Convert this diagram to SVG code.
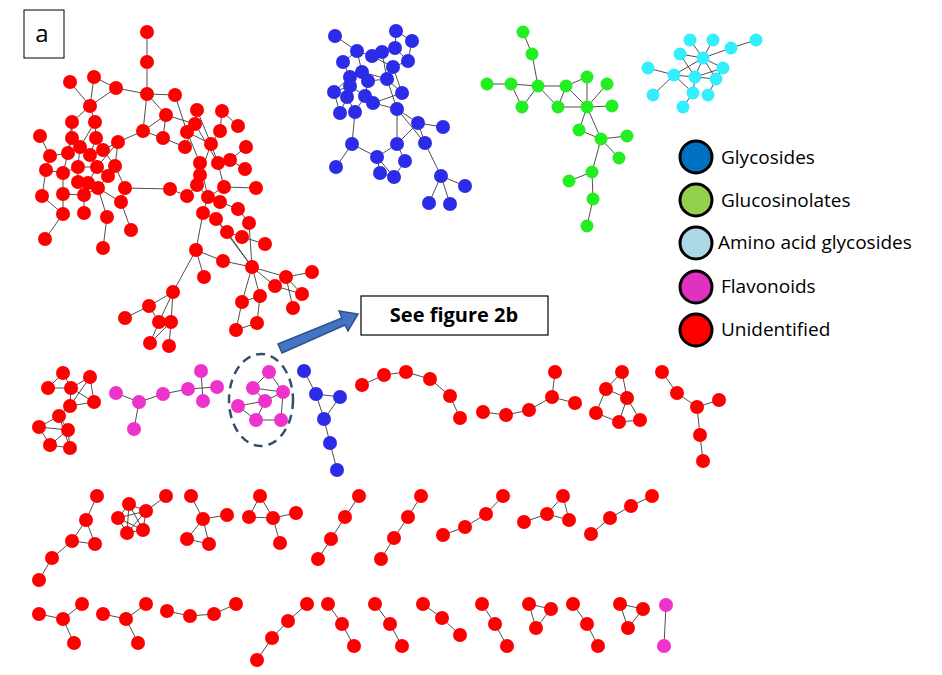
<svg xmlns="http://www.w3.org/2000/svg" width="942" height="675" viewBox="0 0 942 675">
<style>
.e{stroke:#3a3a3a;stroke-width:0.9;fill:none}
.r{fill:#ff0000}.b{fill:#2b2be8}.g{fill:#22ee22}.c{fill:#33eeff}.m{fill:#ee33cc}
.lg{stroke:#000;stroke-width:3}
.t{font-family:"Open Sans","Liberation Sans",sans-serif;font-size:19px;fill:#000}
</style>
<rect width="942" height="675" fill="#fff"/>
<g id="connectors" class="e">
<path d="M147,32L147,62M147,62L147,94M147,94L116,88M147,94L175,95M147,94L166,115M147,94L143,131M116,88L94,77M116,88L90,106M94,77L90,106M70,82L90,106M90,106L95,122M90,106L72,122M175,95L187,132M166,115L163,138M166,115L143,131M166,115L195,124M143,131L118,142M143,131L163,138M163,138L185,147M185,147L195,124M197,110L195,124M195,124L187,132M187,132L211,144M222,111L238,126M222,111L220,131M220,131L211,144M197,110L211,144M187,132L200,163M195,124L218,163M211,144L218,163M211,144L200,175M218,163L230,160M218,163L224,187M230,160L245,169M246,147L230,160M200,163L200,175M200,175L197,185M197,185L187,196M197,185L208,197M200,163L208,197M224,187L256,188M224,187L208,197M208,197L220,202M220,202L238,209M203,213L208,197M203,213L216,219M216,219L227,232M238,209L249,223M227,232L242,237M242,237L265,244M249,223L252,267M227,232L252,267M216,219L252,267M203,213L196,250M196,250L204,277M196,250L223,261M223,261L252,267M252,267L286,277M286,277L312,272M252,267L275,286M275,286L302,294M286,277L302,294M286,277L293,308M252,267L260,296M252,267L242,302M242,302L236,330M260,296L257,323M236,330L257,323M242,302L260,296M196,250L173,292M173,292L149,306M149,306L125,318M173,292L159,322M173,292L171,322M159,322L171,322M159,322L150,343M171,322L169,346M149,306L159,322M171,322L150,343M125,188L170,189M170,189L187,196M72,122L72,138M95,122L96,138M40,136L50,156M72,138L68,153M72,138L80,147M96,138L90,155M96,138L103,150M118,142L103,150M118,142L115,166M50,156L46,170M50,156L68,153M68,153L80,147M80,147L90,155M90,155L103,150M68,153L63,173M80,147L78,167M90,155L97,167M103,150L115,166M115,166L108,176M46,170L63,173M63,173L78,167M78,167L97,167M97,167L108,176M78,167L78,182M97,167L88,183M108,176L98,188M115,166L125,188M78,182L88,183M88,183L98,188M46,170L42,196M63,173L63,194M78,182L84,195M98,188L84,195M63,194L63,214M42,196L63,214M84,195L84,213M98,188L107,217M107,217L103,248M125,188L121,202M121,202L131,230M63,214L45,239M63,194L84,195M98,188L121,202M72,122L68,153M95,122L80,147M118,142L97,167"/>
<path d="M335,36L357,51M357,51L372,56M372,56L382,52M382,52L395,48M396,31L412,41M396,31L395,48M412,41L408,61M395,48L408,61M343,62L357,51M343,62L350,77M357,51L362,72M362,72L350,77M362,72L368,81M372,56L393,67M382,52L387,79M393,67L408,61M393,67L387,79M350,77L350,86M350,86L334,92M350,86L347,97M350,86L365,96M368,81L365,96M368,81L387,79M387,79L402,93M365,96L373,103M373,103L397,109M334,92L340,113M347,97L340,113M347,97L355,112M355,112L365,96M362,72L387,79M387,79L397,109M397,109L418,123M418,123L443,127M418,123L425,143M397,109L425,143M355,112L352,144M352,144L336,167M352,144L377,157M397,109L397,144M397,144L418,123M397,144L377,157M397,144L405,161M377,157L380,173M380,173L394,177M394,177L405,161M377,157L394,177M425,143L441,176M441,176L465,186M441,176L429,203M441,176L450,204M334,92L350,77M373,103L402,93M402,93L393,67"/>
<path d="M523,32L532,54M532,54L538,86M487,84L511,84M511,84L538,86M511,84L522,107M522,107L538,86M538,86L566,86M538,86L558,107M566,86L558,107M566,86L587,77M566,86L587,107M558,107L587,107M587,107L587,77M587,107L607,84M587,107L612,106M587,107L579,130M587,107L601,139M579,130L601,139M601,139L627,136M601,139L619,158M601,139L592,172M592,172L569,181M592,172L593,199M593,199L587,226"/>
<path d="M703,58L690,40M703,58L713,40M703,58L731,48M703,58L680,54M703,58L723,68M703,58L674,75M703,58L695,77M703,58L716,79M731,48L756,40M648,68L674,75M674,75L653,95M674,75L695,77M674,75L693,93M695,77L716,79M695,77L693,93M693,93L683,107M716,79L708,95M695,77L723,68M716,79L723,68M680,54L695,77"/>
<path d="M63,373L48,388M63,373L71,388M48,388L71,388M71,388L90,377M71,388L70,406M90,377L94,402M70,406L94,402M71,388L94,402M90,377L70,406M70,406L59,416M59,416L39,427M59,416L68,430M39,427L68,430M39,427L50,445M68,430L70,448M50,445L70,448M68,430L50,445M59,416L70,448"/>
<path d="M116,393L139,402M139,402L134,429M139,402L163,394M163,394L188,389M188,389L217,387M201,371L203,401"/>
<path d="M269,372L253,388M269,372L283,392M253,388L283,392M253,388L265,401M283,392L265,401M238,406L265,401M238,406L256,420M256,420L281,420M283,392L281,420M265,401L256,420"/>
<path d="M304,371L316,394M316,394L340,397M316,394L324,419M340,397L324,419M324,419L330,443M330,443L337,470"/>
<path d="M362,385L384,375L406,372L430,379L450,396L460,418M483,412L506,415L529,410L552,397M552,397L555,372M552,397L575,403"/>
<path d="M622,372L606,389M622,372L627,398M606,389L627,398M606,389L596,413M596,413L619,422M627,398L619,422M627,398L640,420M619,422L640,420M662,372L677,393L697,407L719,400M697,407L700,435L703,461"/>
<path d="M97,496L86,520L72,541L52,558L39,580M86,520L95,544M72,541L95,544M129,504L146,511L143,530L127,533L118,518L129,504M129,504L143,530M129,504L127,533M146,511L127,533M146,511L118,518M118,518L143,530M146,511L166,496M191,496L203,519L227,515M203,519L187,539L209,544L203,519M260,496L249,517L273,518L260,496M273,518L296,513M273,518L280,543M359,496L345,517L331,539L318,559"/>
<path d="M421,496L408,517L394,538L381,559M503,496L486,514L465,527L443,535M563,496L547,514L569,520L563,496M547,514L524,522M652,496L631,506L610,518L591,534"/>
<path d="M39,614L63,619L82,604M63,619L74,643M103,614L126,619L146,604M126,619L138,643M167,611L190,616L214,614L236,604M307,604L288,621L272,638L257,660M328,604L342,624L354,646M375,604L390,624L402,646M423,604L442,618L460,635M482,604L495,624L507,646M529,604L551,609L536,628L529,604M573,604L587,624L598,646M620,604L643,609L628,628L620,604M666,605L664,646"/>
</g>
<g id="red-main" class="r">
<circle cx="147" cy="32" r="7"/><circle cx="147" cy="62" r="7"/><circle cx="70" cy="82" r="7"/><circle cx="94" cy="77" r="7"/><circle cx="116" cy="88" r="7"/><circle cx="147" cy="94" r="7"/><circle cx="175" cy="95" r="7"/><circle cx="90" cy="106" r="7"/><circle cx="166" cy="115" r="7"/><circle cx="197" cy="110" r="7"/><circle cx="222" cy="111" r="7"/><circle cx="72" cy="122" r="7"/><circle cx="95" cy="122" r="7"/><circle cx="143" cy="131" r="7"/><circle cx="163" cy="138" r="7"/><circle cx="187" cy="132" r="7"/><circle cx="195" cy="124" r="7"/><circle cx="220" cy="131" r="7"/><circle cx="238" cy="126" r="7"/><circle cx="40" cy="136" r="7"/><circle cx="72" cy="138" r="7"/><circle cx="96" cy="138" r="7"/><circle cx="118" cy="142" r="7"/><circle cx="185" cy="147" r="7"/><circle cx="211" cy="144" r="7"/><circle cx="246" cy="147" r="7"/><circle cx="50" cy="156" r="7"/><circle cx="68" cy="153" r="7"/><circle cx="80" cy="147" r="7"/><circle cx="90" cy="155" r="7"/><circle cx="103" cy="150" r="7"/><circle cx="46" cy="170" r="7"/><circle cx="63" cy="173" r="7"/><circle cx="78" cy="167" r="7"/><circle cx="97" cy="167" r="7"/><circle cx="115" cy="166" r="7"/><circle cx="108" cy="176" r="7"/><circle cx="200" cy="163" r="7"/><circle cx="218" cy="163" r="7"/><circle cx="230" cy="160" r="7"/><circle cx="245" cy="169" r="7"/><circle cx="200" cy="175" r="7"/><circle cx="78" cy="182" r="7"/><circle cx="88" cy="183" r="7"/><circle cx="98" cy="188" r="7"/><circle cx="125" cy="188" r="7"/><circle cx="170" cy="189" r="7"/><circle cx="187" cy="196" r="7"/><circle cx="197" cy="185" r="7"/><circle cx="224" cy="187" r="7"/><circle cx="256" cy="188" r="7"/><circle cx="42" cy="196" r="7"/><circle cx="63" cy="194" r="7"/><circle cx="84" cy="195" r="7"/><circle cx="208" cy="197" r="7"/><circle cx="220" cy="202" r="7"/><circle cx="121" cy="202" r="7"/><circle cx="238" cy="209" r="7"/><circle cx="63" cy="214" r="7"/><circle cx="84" cy="213" r="7"/><circle cx="107" cy="217" r="7"/><circle cx="203" cy="213" r="7"/><circle cx="216" cy="219" r="7"/><circle cx="249" cy="223" r="7"/><circle cx="131" cy="230" r="7"/><circle cx="227" cy="232" r="7"/><circle cx="242" cy="237" r="7"/><circle cx="265" cy="244" r="7"/><circle cx="45" cy="239" r="7"/><circle cx="103" cy="248" r="7"/><circle cx="196" cy="250" r="7"/><circle cx="223" cy="261" r="7"/><circle cx="252" cy="267" r="7"/><circle cx="204" cy="277" r="7"/><circle cx="286" cy="277" r="7"/><circle cx="312" cy="272" r="7"/><circle cx="275" cy="286" r="7"/><circle cx="173" cy="292" r="7"/><circle cx="260" cy="296" r="7"/><circle cx="242" cy="302" r="7"/><circle cx="302" cy="294" r="7"/><circle cx="149" cy="306" r="7"/><circle cx="293" cy="308" r="7"/><circle cx="125" cy="318" r="7"/><circle cx="159" cy="322" r="7"/><circle cx="171" cy="322" r="7"/><circle cx="257" cy="323" r="7"/><circle cx="236" cy="330" r="7"/><circle cx="150" cy="343" r="7"/><circle cx="169" cy="346" r="7"/>
</g>
<g id="blue-main" class="b">
<circle cx="335" cy="36" r="7"/><circle cx="396" cy="31" r="7"/><circle cx="412" cy="41" r="7"/><circle cx="357" cy="51" r="7"/><circle cx="372" cy="56" r="7"/><circle cx="382" cy="52" r="7"/><circle cx="395" cy="48" r="7"/><circle cx="343" cy="62" r="7"/><circle cx="408" cy="61" r="7"/><circle cx="362" cy="72" r="7"/><circle cx="393" cy="67" r="7"/><circle cx="350" cy="77" r="7"/><circle cx="368" cy="81" r="7"/><circle cx="387" cy="79" r="7"/><circle cx="334" cy="92" r="7"/><circle cx="347" cy="97" r="7"/><circle cx="365" cy="96" r="7"/><circle cx="402" cy="93" r="7"/><circle cx="373" cy="103" r="7"/><circle cx="340" cy="113" r="7"/><circle cx="355" cy="112" r="7"/><circle cx="397" cy="109" r="7"/><circle cx="350" cy="86" r="7"/><circle cx="418" cy="123" r="7"/><circle cx="443" cy="127" r="7"/><circle cx="352" cy="144" r="7"/><circle cx="397" cy="144" r="7"/><circle cx="425" cy="143" r="7"/><circle cx="377" cy="157" r="7"/><circle cx="405" cy="161" r="7"/><circle cx="336" cy="167" r="7"/><circle cx="380" cy="173" r="7"/><circle cx="394" cy="177" r="7"/><circle cx="441" cy="176" r="7"/><circle cx="465" cy="186" r="7"/><circle cx="429" cy="203" r="7"/><circle cx="450" cy="204" r="7"/>
</g>
<g id="green-main" class="g">
<circle cx="523" cy="32" r="6.5"/><circle cx="532" cy="54" r="6.5"/><circle cx="487" cy="84" r="6.5"/><circle cx="511" cy="84" r="6.5"/><circle cx="538" cy="86" r="6.5"/><circle cx="566" cy="86" r="6.5"/><circle cx="587" cy="77" r="6.5"/><circle cx="607" cy="84" r="6.5"/><circle cx="522" cy="107" r="6.5"/><circle cx="558" cy="107" r="6.5"/><circle cx="587" cy="107" r="6.5"/><circle cx="612" cy="106" r="6.5"/><circle cx="579" cy="130" r="6.5"/><circle cx="601" cy="139" r="6.5"/><circle cx="627" cy="136" r="6.5"/><circle cx="619" cy="158" r="6.5"/><circle cx="592" cy="172" r="6.5"/><circle cx="569" cy="181" r="6.5"/><circle cx="593" cy="199" r="6.5"/><circle cx="587" cy="226" r="6.5"/>
</g>
<g id="cyan-main" class="c">
<circle cx="690" cy="40" r="6.5"/><circle cx="713" cy="40" r="6.5"/><circle cx="731" cy="48" r="6.5"/><circle cx="756" cy="40" r="6.5"/><circle cx="680" cy="54" r="6.5"/><circle cx="703" cy="58" r="6.5"/><circle cx="723" cy="68" r="6.5"/><circle cx="648" cy="68" r="6.5"/><circle cx="674" cy="75" r="6.5"/><circle cx="695" cy="77" r="6.5"/><circle cx="716" cy="79" r="6.5"/><circle cx="693" cy="93" r="6.5"/><circle cx="708" cy="95" r="6.5"/><circle cx="653" cy="95" r="6.5"/><circle cx="683" cy="107" r="6.5"/>
</g>
<g id="row2-red" class="r">
<circle cx="63" cy="373" r="7"/><circle cx="90" cy="377" r="7"/><circle cx="48" cy="388" r="7"/><circle cx="71" cy="388" r="7"/><circle cx="70" cy="406" r="7"/><circle cx="94" cy="402" r="7"/><circle cx="59" cy="416" r="7"/><circle cx="39" cy="427" r="7"/><circle cx="68" cy="430" r="7"/><circle cx="50" cy="445" r="7"/><circle cx="70" cy="448" r="7"/>
<circle cx="362" cy="385" r="7"/><circle cx="384" cy="375" r="7"/><circle cx="406" cy="372" r="7"/><circle cx="430" cy="379" r="7"/><circle cx="450" cy="396" r="7"/><circle cx="460" cy="418" r="7"/>
<circle cx="483" cy="412" r="7"/><circle cx="506" cy="415" r="7"/><circle cx="529" cy="410" r="7"/><circle cx="552" cy="397" r="7"/><circle cx="555" cy="372" r="7"/><circle cx="575" cy="403" r="7"/>
<circle cx="622" cy="372" r="7"/><circle cx="606" cy="389" r="7"/><circle cx="627" cy="398" r="7"/><circle cx="596" cy="413" r="7"/><circle cx="619" cy="422" r="7"/><circle cx="640" cy="420" r="7"/>
<circle cx="662" cy="372" r="7"/><circle cx="677" cy="393" r="7"/><circle cx="697" cy="407" r="7"/><circle cx="719" cy="400" r="7"/><circle cx="700" cy="435" r="7"/><circle cx="703" cy="461" r="7"/>
</g>
<g id="row2-magenta" class="m">
<circle cx="116" cy="393" r="7"/><circle cx="139" cy="402" r="7"/><circle cx="134" cy="429" r="7"/><circle cx="163" cy="394" r="7"/><circle cx="188" cy="389" r="7"/><circle cx="201" cy="371" r="7"/><circle cx="217" cy="387" r="7"/><circle cx="203" cy="401" r="7"/>
<circle cx="269" cy="372" r="7"/><circle cx="253" cy="388" r="7"/><circle cx="283" cy="392" r="7"/><circle cx="265" cy="401" r="7"/><circle cx="238" cy="406" r="7"/><circle cx="256" cy="420" r="7"/><circle cx="281" cy="420" r="7"/>
</g>
<g id="row2-blue" class="b">
<circle cx="304" cy="371" r="7"/><circle cx="316" cy="394" r="7"/><circle cx="340" cy="397" r="7"/><circle cx="324" cy="419" r="7"/><circle cx="330" cy="443" r="7"/><circle cx="337" cy="470" r="7"/>
</g>
<g id="row3" class="r">
<circle cx="97" cy="496" r="7"/><circle cx="86" cy="520" r="7"/><circle cx="72" cy="541" r="7"/><circle cx="95" cy="544" r="7"/><circle cx="52" cy="558" r="7"/><circle cx="39" cy="580" r="7"/>
<circle cx="129" cy="504" r="7"/><circle cx="146" cy="511" r="7"/><circle cx="118" cy="518" r="7"/><circle cx="127" cy="533" r="7"/><circle cx="143" cy="530" r="7"/><circle cx="166" cy="496" r="7"/>
<circle cx="191" cy="496" r="7"/><circle cx="203" cy="519" r="7"/><circle cx="227" cy="515" r="7"/><circle cx="187" cy="539" r="7"/><circle cx="209" cy="544" r="7"/>
<circle cx="260" cy="496" r="7"/><circle cx="249" cy="517" r="7"/><circle cx="273" cy="518" r="7"/><circle cx="296" cy="513" r="7"/><circle cx="280" cy="543" r="7"/>
<circle cx="359" cy="496" r="7"/><circle cx="345" cy="517" r="7"/><circle cx="331" cy="539" r="7"/><circle cx="318" cy="559" r="7"/>
<circle cx="421" cy="496" r="7"/><circle cx="408" cy="517" r="7"/><circle cx="394" cy="538" r="7"/><circle cx="381" cy="559" r="7"/>
<circle cx="503" cy="496" r="7"/><circle cx="486" cy="514" r="7"/><circle cx="465" cy="527" r="7"/><circle cx="443" cy="535" r="7"/>
<circle cx="563" cy="496" r="7"/><circle cx="547" cy="514" r="7"/><circle cx="569" cy="520" r="7"/><circle cx="524" cy="522" r="7"/>
<circle cx="652" cy="496" r="7"/><circle cx="631" cy="506" r="7"/><circle cx="610" cy="518" r="7"/><circle cx="591" cy="534" r="7"/>
</g>
<g id="row4" class="r">
<circle cx="39" cy="614" r="7"/><circle cx="63" cy="619" r="7"/><circle cx="82" cy="604" r="7"/><circle cx="74" cy="643" r="7"/>
<circle cx="103" cy="614" r="7"/><circle cx="126" cy="619" r="7"/><circle cx="146" cy="604" r="7"/><circle cx="138" cy="643" r="7"/>
<circle cx="167" cy="611" r="7"/><circle cx="190" cy="616" r="7"/><circle cx="214" cy="614" r="7"/><circle cx="236" cy="604" r="7"/>
<circle cx="307" cy="604" r="7"/><circle cx="288" cy="621" r="7"/><circle cx="272" cy="638" r="7"/><circle cx="257" cy="660" r="7"/>
<circle cx="328" cy="604" r="7"/><circle cx="342" cy="624" r="7"/><circle cx="354" cy="646" r="7"/>
<circle cx="375" cy="604" r="7"/><circle cx="390" cy="624" r="7"/><circle cx="402" cy="646" r="7"/>
<circle cx="423" cy="604" r="7"/><circle cx="442" cy="618" r="7"/><circle cx="460" cy="635" r="7"/>
<circle cx="482" cy="604" r="7"/><circle cx="495" cy="624" r="7"/><circle cx="507" cy="646" r="7"/>
<circle cx="529" cy="604" r="7"/><circle cx="551" cy="609" r="7"/><circle cx="536" cy="628" r="7"/>
<circle cx="573" cy="604" r="7"/><circle cx="587" cy="624" r="7"/><circle cx="598" cy="646" r="7"/>
<circle cx="620" cy="604" r="7"/><circle cx="643" cy="609" r="7"/><circle cx="628" cy="628" r="7"/>
</g>
<g id="row4-magenta" class="m"><circle cx="666" cy="605" r="7"/><circle cx="664" cy="646" r="7"/></g>
<g id="highlight">
<ellipse cx="261" cy="400" rx="32" ry="46" fill="none" stroke="#34506e" stroke-width="2.5" stroke-dasharray="9,6"/>
<polygon points="278,344 342,318 339,311 358,314 348,331 345,325 282,353" fill="#4472c4" stroke="#2f528f" stroke-width="1.5"/>
</g>
<g id="callout">
<rect x="361" y="296" width="187" height="39" fill="#fff" stroke="#000" stroke-width="1.2"/>
<text x="454" y="322" text-anchor="middle" font-family="'Open Sans','Liberation Sans',sans-serif" font-size="20" font-weight="bold">See figure 2b</text>
</g>
<g id="panel-label">
<rect x="24" y="10" width="40" height="48" fill="#fff" stroke="#000" stroke-width="1"/>
<text x="42" y="42" text-anchor="middle" font-family="'Open Sans','Liberation Sans',sans-serif" font-size="24">a</text>
</g>
<g id="legend">
<circle class="lg" cx="696" cy="157" r="16" fill="#0070c0"/><text class="t" x="721" y="164">Glycosides</text>
<circle class="lg" cx="696" cy="200" r="16" fill="#92d050"/><text class="t" x="721" y="207">Glucosinolates</text>
<circle class="lg" cx="696" cy="243" r="16" fill="#add8e6"/><text class="t" x="718" y="249">Amino acid glycosides</text>
<circle class="lg" cx="696" cy="287" r="16" fill="#e030c0"/><text class="t" x="721" y="293">Flavonoids</text>
<circle class="lg" cx="696" cy="330" r="16" fill="#ff0000"/><text class="t" x="721" y="336">Unidentified</text>
</g>
</svg>
